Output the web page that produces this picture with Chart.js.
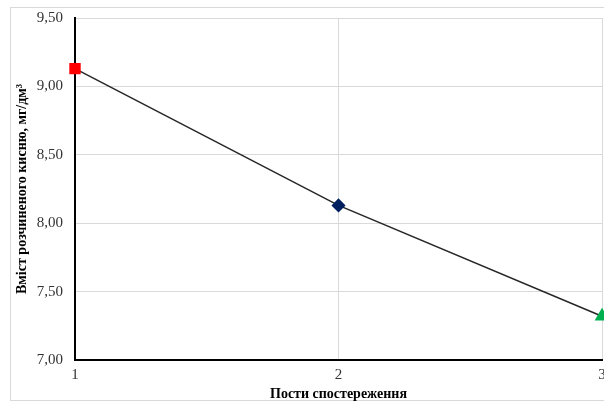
<!DOCTYPE html>
<html>
<head>
<meta charset="utf-8">
<script src="https://cdn.jsdelivr.net/npm/chart.js@4"></script>
<style>
  html, body { margin: 0; padding: 0; background: #fff; }
  #wrap { width: 604px; height: 403px; }
</style>
</head>
<body>
<div id="wrap"><canvas id="chart" width="604" height="403"></canvas></div>
<script>
const posts = ["1", "2", "3"];
const oxygen = [9.13, 8.13, 7.32];
const markerStyles = ["rect", "rectRot", "triangle"];
const markerColors = ["#ff0000", "#002060", "#00b050"];

// light grey outer frame like the office chart
const frame = {
    id: "frame",
    beforeDraw(chart) {
        const ctx = chart.ctx;
        ctx.save();
        ctx.strokeStyle = "#d9d9d9";
        ctx.lineWidth = 1;
        ctx.strokeRect(10.5, 7.5, 600, 393);
        ctx.restore();
    }
};

const serif = "'Liberation Serif', 'Times New Roman', serif";

new Chart(document.getElementById("chart"), {
    type: "line",
    data: {
        labels: posts,
        datasets: [{
            data: oxygen,
            borderColor: "#262626",
            borderWidth: 1.5,
            pointStyle: markerStyles,
            pointBackgroundColor: markerColors,
            pointBorderColor: markerColors,
            pointRadius: [7, 6, 7],
            tension: 0,
            clip: false
        }]
    },
    options: {
        responsive: false,
        animation: false,
        layout: { autoPadding: false, padding: { left: 14, right: 2, top: 18, bottom: 2 } },
        plugins: {
            legend: { display: false },
            tooltip: { enabled: false }
        },
        scales: {
            x: {
                offset: false,
                grid: { color: "#d9d9d9", drawTicks: false },
                border: { color: "#000", width: 2 },
                ticks: { color: "#333", padding: 6, font: { family: serif, size: 15 } },
                title: {
                    display: true,
                    text: "Пости спостереження",
                    color: "#000",
                    padding: { top: 0, bottom: -2 },
                    font: { family: serif, size: 14, weight: "bold" }
                },
                afterFit(scale) {
                    scale.height = 41;
                    scale.paddingLeft = 0;
                    scale.paddingRight = 0;
                }
            },
            y: {
                min: 7,
                max: 9.5,
                grid: { color: "#d9d9d9", drawTicks: false },
                border: { color: "#000", width: 2 },
                ticks: {
                    stepSize: 0.5,
                    color: "#333",
                    padding: 12,
                    font: { family: serif, size: 15 },
                    callback: v => v.toFixed(2).replace(".", ",")
                },
                title: {
                    display: true,
                    text: "Вміст розчиненого кисню, мг/дм³",
                    color: "#000",
                    padding: { top: 0, bottom: 4 },
                    font: { family: serif, size: 14, weight: "bold" }
                },
                afterFit(scale) {
                    scale.width = 61;
                    scale.paddingTop = 0;
                    scale.paddingBottom = 0;
                }
            }
        }
    },
    plugins: [frame]
});
</script>
</body>
</html>
